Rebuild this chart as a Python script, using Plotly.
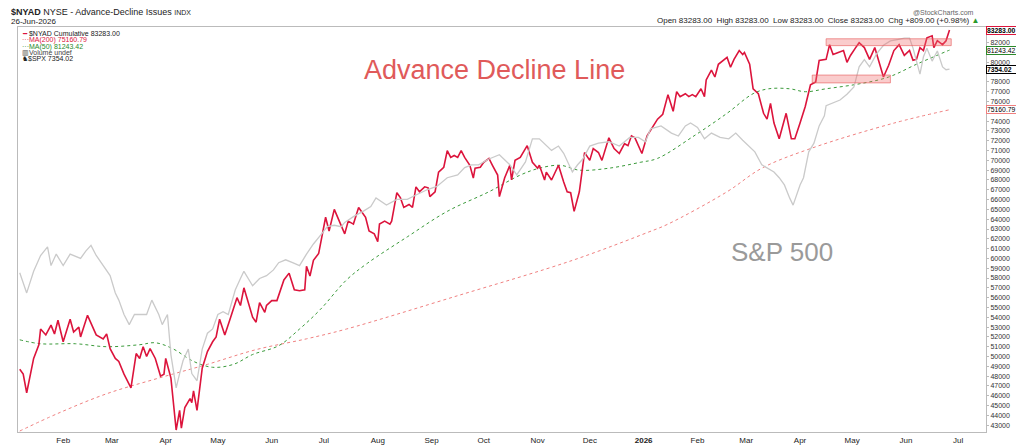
import plotly.graph_objects as go

# $NYAD cumulative advance-decline line
ad_dates = [
    "2025-01-07", "2025-01-09", "2025-01-11", "2025-01-15", "2025-01-18", "2025-01-19", "2025-01-22", "2025-01-25",
    "2025-01-27", "2025-01-29", "2025-02-01", "2025-02-05", "2025-02-07", "2025-02-10", "2025-02-11", "2025-02-14",
    "2025-02-15", "2025-02-20", "2025-02-24", "2025-02-26", "2025-02-28", "2025-03-03", "2025-03-05", "2025-03-08",
    "2025-03-12", "2025-03-15", "2025-03-17", "2025-03-19", "2025-03-21", "2025-03-23", "2025-03-26", "2025-03-29",
    "2025-03-31", "2025-04-01", "2025-04-04", "2025-04-07", "2025-04-09", "2025-04-10", "2025-04-12", "2025-04-15",
    "2025-04-16", "2025-04-17", "2025-04-19", "2025-04-22", "2025-04-25", "2025-04-28", "2025-04-30", "2025-05-02",
    "2025-05-05", "2025-05-08", "2025-05-12", "2025-05-14", "2025-05-16", "2025-05-21", "2025-05-23", "2025-05-25",
    "2025-05-28", "2025-05-29", "2025-06-01", "2025-06-04", "2025-06-08", "2025-06-11", "2025-06-14", "2025-06-17",
    "2025-06-20", "2025-06-21", "2025-06-23", "2025-06-25", "2025-06-28", "2025-07-02", "2025-07-04", "2025-07-07",
    "2025-07-10", "2025-07-13", "2025-07-15", "2025-07-18", "2025-07-21", "2025-07-23", "2025-07-25", "2025-07-27",
    "2025-07-30", "2025-08-01", "2025-08-02", "2025-08-05", "2025-08-08", "2025-08-09", "2025-08-12", "2025-08-14",
    "2025-08-16", "2025-08-19", "2025-08-21", "2025-08-23", "2025-08-25", "2025-08-28", "2025-08-30", "2025-08-31",
    "2025-09-03", "2025-09-05", "2025-09-08", "2025-09-10", "2025-09-12", "2025-09-14", "2025-09-16", "2025-09-18",
    "2025-09-20", "2025-09-23", "2025-09-25", "2025-09-26", "2025-09-29", "2025-10-01", "2025-10-04", "2025-10-06",
    "2025-10-09", "2025-10-10", "2025-10-13", "2025-10-16", "2025-10-17", "2025-10-19", "2025-10-22", "2025-10-26",
    "2025-10-29", "2025-11-01", "2025-11-02", "2025-11-05", "2025-11-06", "2025-11-09", "2025-11-13", "2025-11-16",
    "2025-11-18", "2025-11-20", "2025-11-22", "2025-11-25", "2025-11-27", "2025-11-28", "2025-12-01", "2025-12-03",
    "2025-12-06", "2025-12-08", "2025-12-12", "2025-12-15", "2025-12-18", "2025-12-21", "2025-12-23", "2025-12-25",
    "2025-12-27", "2025-12-31", "2026-01-03", "2026-01-06", "2026-01-09", "2026-01-12", "2026-01-15", "2026-01-18",
    "2026-01-20", "2026-01-22", "2026-01-25", "2026-01-27", "2026-01-29", "2026-01-31", "2026-02-03", "2026-02-05",
    "2026-02-06", "2026-02-09", "2026-02-11", "2026-02-13", "2026-02-16", "2026-02-18", "2026-02-20", "2026-02-22",
    "2026-02-25", "2026-02-27", "2026-02-28", "2026-03-03", "2026-03-05", "2026-03-08", "2026-03-11", "2026-03-13",
    "2026-03-15", "2026-03-17", "2026-03-20", "2026-03-23", "2026-03-24", "2026-03-27", "2026-03-29", "2026-04-01",
    "2026-04-04", "2026-04-07", "2026-04-10", "2026-04-12", "2026-04-16", "2026-04-18", "2026-04-20", "2026-04-23",
    "2026-04-26", "2026-04-28", "2026-04-30", "2026-05-03", "2026-05-05", "2026-05-08", "2026-05-11", "2026-05-14",
    "2026-05-16", "2026-05-19", "2026-05-22", "2026-05-25", "2026-05-28", "2026-05-31", "2026-06-03", "2026-06-05",
    "2026-06-07", "2026-06-09", "2026-06-11", "2026-06-13", "2026-06-16", "2026-06-17", "2026-06-19", "2026-06-22",
    "2026-06-24", "2026-06-26",
]
ad_values = [
    48700, 48200, 46300, 49800, 51200, 52800, 52200, 53200, 52300, 53700, 51500, 53800, 52500, 53000, 52000, 53700,
    54200, 52200, 51800, 52300, 50800, 49800, 49500, 48200, 46800, 50300, 49800, 51000, 50000, 50800, 49800, 48000,
    48200, 49800, 47800, 42500, 44500, 42700, 44800, 45700, 45300, 46500, 44500, 48800, 50500, 51500, 52000, 53800,
    52200, 53800, 56000, 55200, 57000, 54000, 53500, 55500, 54500, 55200, 55700, 55700, 57800, 58500, 56800, 56700,
    56800, 59200, 58200, 59800, 60500, 64200, 62800, 65000, 63800, 62500, 63800, 63500, 65200, 64700, 64200, 62800,
    62500, 61700, 63500, 63800, 63500, 63800, 66700, 66200, 65200, 65500, 65200, 67300, 66800, 67300, 67200, 66300,
    66800, 68800, 69300, 71000, 70300, 70500, 70300, 71000, 70300, 69500, 68200, 69200, 69300, 69800, 70200, 69500,
    68500, 66300, 68200, 69500, 68000, 70000, 70300, 71500, 69800, 69200, 69500, 68000, 68800, 68000, 69500, 67800,
    66800, 66700, 64800, 66800, 69500, 70800, 70000, 71200, 70800, 70000, 72300, 71200, 70700, 71700, 71500, 72500,
    72300, 70700, 72500, 73300, 74200, 74700, 76700, 75000, 77000, 76500, 76800, 76500, 76700, 76500, 77300, 76500,
    78200, 79200, 78500, 79800, 80200, 80500, 79500, 80300, 81200, 80800, 81000, 79800, 77300, 76800, 74800, 74200,
    75800, 73800, 72200, 74200, 74800, 72200, 72200, 73800, 75500, 77700, 78000, 80200, 80300, 81800, 80800, 81000,
    81200, 80000, 80700, 81500, 82000, 81500, 80300, 81500, 80300, 78500, 79700, 81200, 81800, 80700, 81200, 80200,
    80300, 81500, 81200, 82500, 82700, 81500, 82200, 81800, 82200, 83283,
]

# $SPX close, drawn on its own overlay scale
spx_dates = [
    "2025-01-07", "2025-01-11", "2025-01-15", "2025-01-19", "2025-01-23", "2025-01-25", "2025-01-28", "2025-02-01",
    "2025-02-05", "2025-02-11", "2025-02-14", "2025-02-17", "2025-02-20", "2025-02-24", "2025-02-28", "2025-03-03",
    "2025-03-05", "2025-03-08", "2025-03-11", "2025-03-14", "2025-03-17", "2025-03-21", "2025-03-24", "2025-03-28",
    "2025-03-30", "2025-04-02", "2025-04-04", "2025-04-07", "2025-04-09", "2025-04-11", "2025-04-14", "2025-04-16",
    "2025-04-19", "2025-04-22", "2025-04-25", "2025-04-28", "2025-05-01", "2025-05-04", "2025-05-07", "2025-05-11",
    "2025-05-14", "2025-05-16", "2025-05-21", "2025-05-25", "2025-05-29", "2025-06-02", "2025-06-05", "2025-06-09",
    "2025-06-13", "2025-06-17", "2025-06-21", "2025-06-25", "2025-06-29", "2025-07-03", "2025-07-07", "2025-07-11",
    "2025-07-13", "2025-07-18", "2025-07-24", "2025-07-28", "2025-07-31", "2025-08-06", "2025-08-12", "2025-08-18",
    "2025-08-23", "2025-08-30", "2025-09-04", "2025-09-10", "2025-09-16", "2025-09-20", "2025-09-24", "2025-09-28",
    "2025-10-04", "2025-10-10", "2025-10-16", "2025-10-20", "2025-10-25", "2025-10-29", "2025-11-02", "2025-11-06",
    "2025-11-09", "2025-11-13", "2025-11-16", "2025-11-21", "2025-11-24", "2025-11-27", "2025-12-01", "2025-12-06",
    "2025-12-12", "2025-12-18", "2025-12-24", "2025-12-29", "2026-01-02", "2026-01-05", "2026-01-11", "2026-01-17",
    "2026-01-21", "2026-01-25", "2026-01-28", "2026-02-01", "2026-02-05", "2026-02-09", "2026-02-14", "2026-02-19",
    "2026-02-23", "2026-02-27", "2026-03-03", "2026-03-06", "2026-03-10", "2026-03-13", "2026-03-17", "2026-03-20",
    "2026-03-23", "2026-03-26", "2026-03-28", "2026-04-01", "2026-04-03", "2026-04-06", "2026-04-09", "2026-04-12",
    "2026-04-15", "2026-04-16", "2026-04-20", "2026-04-24", "2026-04-28", "2026-05-02", "2026-05-05", "2026-05-08",
    "2026-05-11", "2026-05-15", "2026-05-19", "2026-05-23", "2026-05-27", "2026-05-31", "2026-06-03", "2026-06-05",
    "2026-06-09", "2026-06-11", "2026-06-13", "2026-06-16", "2026-06-19", "2026-06-22", "2026-06-24", "2026-06-26",
]
spx_values = [
    5940, 5800, 5950, 6060, 6120, 5990, 6070, 5990, 6070, 6040, 6090, 6130, 6060, 5990, 5920, 5800,
    5750, 5650, 5580, 5650, 5650, 5650, 5750, 5650, 5580, 5650, 5370, 5140, 5240, 5330, 5410, 5240,
    5190, 5410, 5520, 5550, 5650, 5670, 5650, 5820, 5900, 5950, 5850, 5900, 5920, 5960, 6010, 6030,
    6010, 5990, 6070, 6140, 6200, 6260, 6270, 6260, 6290, 6330, 6370, 6400, 6460, 6410, 6450, 6450,
    6480, 6520, 6540, 6600, 6620, 6670, 6690, 6690, 6730, 6760, 6690, 6620, 6710, 6870, 6870, 6820,
    6790, 6820, 6770, 6640, 6690, 6730, 6820, 6840, 6850, 6820, 6880, 6880, 6850, 6940, 6960, 6910,
    6890, 6960, 6980, 6950, 6870, 6910, 6880, 6870, 6910, 6860, 6810, 6780, 6690, 6670, 6640, 6600,
    6550, 6460, 6410, 6550, 6600, 6780, 6840, 6960, 7030, 7100, 7120, 7140, 7180, 7230, 7370, 7420,
    7370, 7460, 7520, 7550, 7560, 7570, 7570, 7500, 7320, 7440, 7500, 7410, 7480, 7370, 7350, 7354.02,
]

# moving averages of $NYAD
ma200_dates = ["2025-01-07", "2025-01-29", "2025-02-26", "2025-03-28", "2025-04-25", "2025-05-23", "2025-06-21",
               "2025-07-14", "2025-09-16", "2025-11-21", "2026-01-04", "2026-01-15", "2026-02-18", "2026-03-10",
               "2026-04-07", "2026-05-25", "2026-06-26"]
ma200_values = [42400, 44200, 46200, 47800, 49200, 50700, 51800, 52800, 56200, 59800, 62700, 63500, 66800, 69200,
                71200, 73800, 75160.79]
ma50_dates = ["2025-01-07", "2025-01-19", "2025-02-08", "2025-02-26", "2025-03-17", "2025-03-26", "2025-04-05",
              "2025-04-17", "2025-04-28", "2025-05-10", "2025-05-21", "2025-06-05", "2025-06-17", "2025-06-29",
              "2025-07-14", "2025-07-26", "2025-08-18", "2025-09-10", "2025-10-04", "2025-10-22", "2025-11-02",
              "2025-11-14", "2025-11-25", "2025-12-12", "2025-12-30", "2026-01-09", "2026-01-30", "2026-02-18",
              "2026-03-05", "2026-03-14", "2026-03-26", "2026-04-04", "2026-04-16", "2026-05-05", "2026-05-22",
              "2026-06-07", "2026-06-24", "2026-06-26"]
ma50_values = [51700, 51300, 51300, 51000, 51200, 51400, 50800, 49500, 48900, 49200, 50200, 51100, 52800, 54800,
               57800, 59500, 62200, 64800, 66800, 68500, 69200, 69500, 69000, 69200, 69800, 70200, 72500, 74800,
               76800, 77300, 77300, 77000, 77300, 77800, 78500, 79800, 81100, 81243.42]

tick_vals = [v for v in range(43000, 83000, 1000) if v not in (75000, 79000, 81000)]
month_ticks = ["2025-02-01", "2025-03-01", "2025-04-01", "2025-05-01", "2025-06-01", "2025-07-01", "2025-08-01",
               "2025-09-01", "2025-10-01", "2025-11-01", "2025-12-01", "2026-01-01", "2026-02-01", "2026-03-01",
               "2026-04-01", "2026-05-01", "2026-06-01", "2026-07-01"]
month_labels = ["Feb", "Mar", "Apr", "May", "Jun", "Jul", "Aug", "Sep", "Oct", "Nov", "Dec", "<b>2026</b>",
                "Feb", "Mar", "Apr", "May", "Jun", "Jul"]

RED = "#dc143c"
fig = go.Figure()
fig.add_trace(go.Scatter(x=spx_dates, y=spx_values, yaxis="y2", mode="lines",
                         line=dict(color="#cacaca", width=1.3)))
fig.add_trace(go.Scatter(x=ma200_dates, y=ma200_values, mode="lines", line_shape="spline",
                         line=dict(color="#f08080", width=1, dash="dot")))
fig.add_trace(go.Scatter(x=ma50_dates, y=ma50_values, mode="lines", line_shape="spline",
                         line=dict(color="#3a9a3a", width=1, dash="dot")))
fig.add_trace(go.Scatter(x=ad_dates, y=ad_values, mode="lines", line=dict(color=RED, width=1.6)))

# highlighted resistance boxes
for x0, x1, y0, y1 in [("2026-04-16", "2026-06-27", 81700, 82400), ("2026-04-08", "2026-05-23", 77900, 78700)]:
    fig.add_shape(type="rect", x0=x0, x1=x1, y0=y0, y1=y1, fillcolor="rgba(240,110,110,0.35)",
                  line=dict(color="rgba(230,90,90,0.6)", width=1))

ann = []
def note(x, y, text, size=8, color="#222", xanchor="left", yanchor="middle", yshift=0):
    ann.append(dict(x=x, y=y, xref="paper", yref="paper", text=text, showarrow=False, xanchor=xanchor,
                    yanchor=yanchor, yshift=yshift, font=dict(size=size, color=color)))

note(-0.009, 1.0, "<b>$NYAD</b> NYSE - Advance-Decline Issues <span style='font-size:7px'>INDX</span>",
     size=9, yanchor="bottom", yshift=8)
note(-0.009, 1.0, "26-Jun-2026", size=8, yanchor="bottom", yshift=-1)
note(0.995, 1.0, "Open 83283.00  High 83283.00  Low 83283.00  Close 83283.00  Chg +809.00 (+0.98%) "
     "<span style='color:#2a9a2a'>▲</span>", size=8, xanchor="right", yanchor="bottom", yshift=0)
note(0.99, 1.0, "@StockCharts.com", size=7, color="#666", xanchor="right", yanchor="bottom", yshift=9)
legend_lines = [("<span style='color:%s'>━</span> $NYAD Cumulative 83283.00" % RED, "#222"),
                ("···MA(200) 75160.79", RED), ("···MA(50) 81243.42", "#2a8a2a"),
                ("▥Volume undef", "#444"), ("♞$SPX 7354.02", "#222")]
for i, (t, c) in enumerate(legend_lines):
    note(0.002, 1.0 - 0.0155 * i, t, size=7, color=c, yanchor="top", yshift=-1)
note(0.355, 0.893, "Advance Decline Line", size=27, color="#e05a5a")
note(0.735, 0.445, "S&P 500", size=26, color="#9a9a9a")

for val, txt, col, yref in [(83283, "<b>83283.00</b>", RED, "y"), (81243.42, "81243.42", "#2a8a2a", "y"),
                            (7354.02, "<b>7354.02</b>", "#000", "y2"), (75160.79, "75160.79", "#f08080", "y")]:
    ann.append(dict(x=1.0, y=val, xref="paper", yref=yref, text=txt, width=35, align="left",
                    showarrow=False, xanchor="left", xshift=0, bgcolor="white", bordercolor=col,
                    borderwidth=1, borderpad=0, font=dict(size=6.8, color="#000")))

fig.update_layout(
    width=1024, height=446, margin=dict(l=9, r=46, t=19, b=14),
    paper_bgcolor="white", plot_bgcolor="white", showlegend=False,
    font=dict(family="Liberation Sans, Arial, sans-serif", size=8, color="#222"),
    annotations=ann,
    xaxis=dict(range=["2025-01-06", "2026-07-17"], tickvals=month_ticks, ticktext=month_labels,
               showgrid=False, showline=True, linecolor="#bbb", mirror=True, ticks="", zeroline=False),
    yaxis=dict(range=[42300, 83600], side="right", tickvals=tick_vals, tickformat="d", showgrid=False,
               showline=True, linecolor="#bbb", mirror=True, ticks="outside", ticklen=2, tickcolor="#bbb",
               zeroline=False, tickfont=dict(size=7, color="#333")),
    yaxis2=dict(range=[4834, 7647], overlaying="y", visible=False),
)
fig.write_html("out.html")
